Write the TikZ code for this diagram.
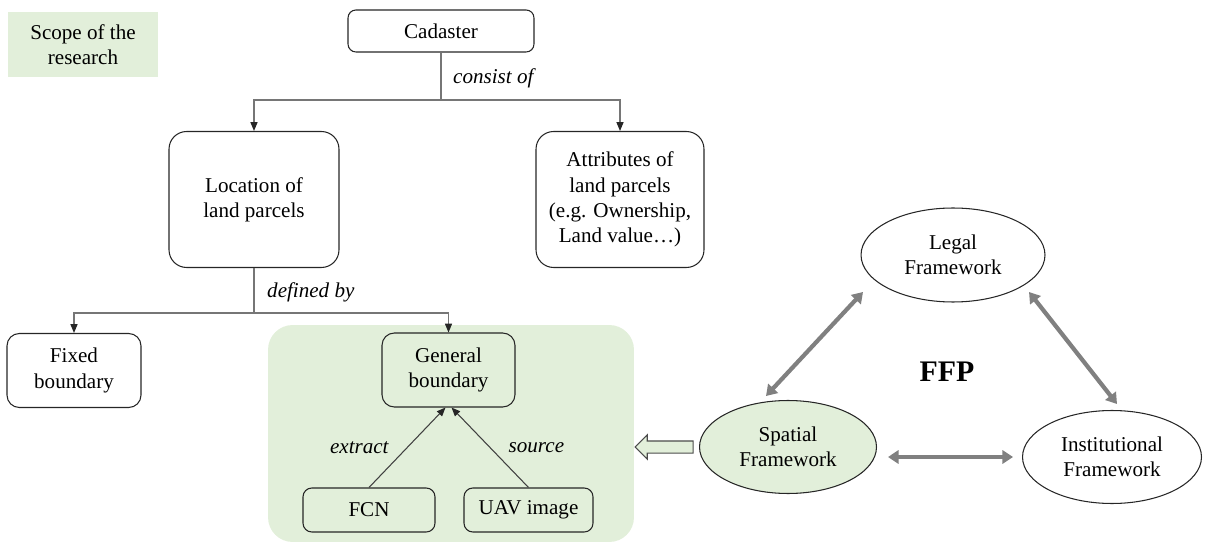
\documentclass[tikz,border=0pt]{standalone}
\usepackage{fontspec}
\setmainfont{Liberation Serif}
\usepackage{tikz}
\usetikzlibrary{shapes.geometric,shapes.arrows,arrows.meta,positioning,calc}
\definecolor{scopegreen}{RGB}{226,239,218}
\definecolor{linegray}{RGB}{118,118,118}

\begin{document}
\begin{tikzpicture}[
    x=0.02cm, y=-0.02cm,
    box/.style={rectangle, draw=black!85, line width=0.6pt, rounded corners=6pt, align=center, inner sep=0pt, font=\fontsize{12}{14.3}\selectfont},
    oval/.style={ellipse, draw=black!85, line width=0.6pt, align=center, inner sep=0pt, font=\fontsize{12}{14.3}\selectfont},
    arrow/.style={-{Triangle[length=5pt,width=4pt,color=black!85]}, draw=linegray, line width=0.6pt},
    line/.style={draw=linegray, line width=0.6pt},
    duo/.style={{Triangle[length=6pt,width=7.5pt]}-{Triangle[length=6pt,width=7.5pt]}, draw=black!50, line width=2.4pt},
    tag/.style={font=\fontsize{12}{14}\selectfont\itshape}
]
    \useasboundingbox (0,0) rectangle (1219,543);

    % Legend (top left)
    \node[rectangle, fill=scopegreen, minimum width=3cm, minimum height=1.3cm, align=center, font=\fontsize{12}{14.3}\selectfont] (legend) at (83,44.5) {Scope of the\\research};

    % Scope region (behind the boundary part)
    \node[rectangle, fill=scopegreen, rounded corners=14pt, minimum width=7.32cm, minimum height=4.34cm] (scope) at (451,433.5) {};

    % Cadaster tree
    \node[box, rounded corners=4.5pt, minimum width=3.72cm, minimum height=0.84cm] (cadaster) at (441,31) {Cadaster};
    \node[box, rounded corners=10pt, minimum width=3.4cm, minimum height=2.72cm] (location) at (254,199.5) {Location of\\land parcels};
    \node[box, rounded corners=10pt, minimum width=3.36cm, minimum height=2.72cm] (attributes) at (620,199.5) {Attributes of\\land parcels\\(e.g. Ownership,\\Land value\ldots)};

    % Boundary types
    \node[box, rounded corners=7pt, minimum width=2.68cm, minimum height=1.48cm] (fixed) at (74,370.5) {Fixed\\boundary};
    \node[box, rounded corners=7pt, minimum width=2.66cm, minimum height=1.48cm] (general) at (448.5,370) {General\\boundary};
    \node[box, rounded corners=5pt, minimum width=2.64cm, minimum height=0.88cm] (fcn) at (369,510) {FCN};
    \node[box, rounded corners=5pt, minimum width=2.58cm, minimum height=0.88cm] (uav) at (528.5,510) {UAV image};

    % FFP triangle
    \node[oval, minimum width=3.68cm, minimum height=1.88cm] (legal) at (953,255) {Legal\\Framework};
    \node[oval, fill=scopegreen, minimum width=3.54cm, minimum height=1.86cm] (spatial) at (788,447) {Spatial\\Framework};
    \node[oval, minimum width=3.58cm, minimum height=1.86cm] (institutional) at (1112,457) {Institutional\\Framework};
    \node[font=\fontsize{17}{20}\selectfont\bfseries] (ffp) at (947,372) {FFP};

    % Tree connectors
    \coordinate (split1) at (441,100);
    \coordinate (split2) at (254,313);
    \draw[line] (cadaster) -- (split1);
    \draw[arrow] (split1) -| (location);
    \draw[arrow] (split1) -| (attributes);
    \node[tag, anchor=west] (consist) at (447,78) {consist of};
    \draw[line] (location) -- (split2);
    \draw[arrow] (split2) -| (fixed);
    \draw[arrow] (split2) -| (general);
    \node[tag, anchor=west] (defined) at (261,292) {defined by};

    % Inside the scope region
    \draw[arrow, draw=black!75] (fcn.north) -- node[tag, pos=0.5, left=7pt] {extract} ([shift={(-3,0)}]general.south);
    \draw[arrow, draw=black!75] (uav.north) -- node[tag, pos=0.5, right=7pt] {source} ([shift={(3,0)}]general.south);

    % FFP arrows
    \draw[duo] ([shift={(-90,37)}]legal.center) -- ([shift={(-22,-51)}]spatial.center);
    \draw[duo] ([shift={(76,37)}]legal.center) -- ([shift={(5,-53)}]institutional.center);
    \draw[duo] ([shift={(100,10)}]spatial.center) -- ([shift={(-99,0)}]institutional.center);

    % Spatial framework points to the scope region
    \node[single arrow, shape border rotate=180, fill=scopegreen, draw=black!70, line width=0.7pt, inner sep=0pt, inner ysep=0.11cm, minimum height=1.16cm, minimum width=0.46cm, single arrow head extend=0.12cm, anchor=tail] (toscope) at ([xshift=-3pt]spatial.west) {};
\end{tikzpicture}
\end{document}
